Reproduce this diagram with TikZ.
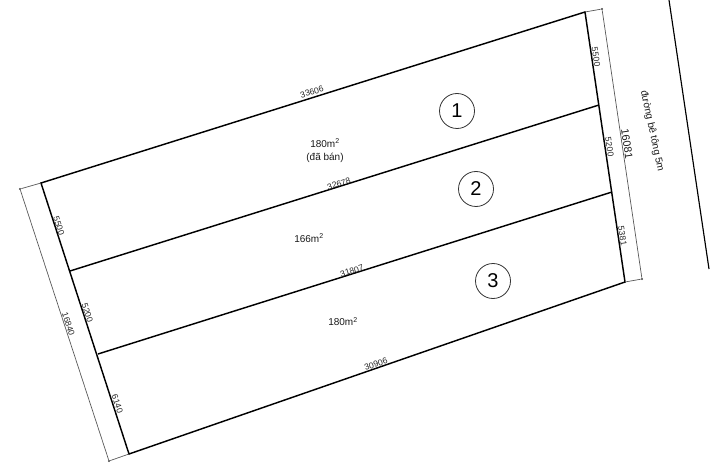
\documentclass[tikz,border=0pt]{standalone}
\usepackage{fontspec}
\setmainfont{Liberation Sans}
\tikzset{
  lotline/.style={draw=black,line width=1.45pt},
  dimline/.style={draw=black!65,line width=0.7pt},
  roadline/.style={draw=black,line width=1.15pt},
  dimtext/.style={inner sep=0pt,text=black!85,font=\fontsize{8.6}{9}\selectfont},
  bigdim/.style={inner sep=0pt,text=black!90,font=\fontsize{10.8}{11}\selectfont},
  areatext/.style={inner sep=0pt,text=black!90,align=center,font=\fontsize{10}{13}\selectfont},
  lotnum/.style={circle,draw=black!80,line width=0.8pt,minimum size=35pt,inner sep=0pt,text=black,font=\fontsize{20}{21}\selectfont},
  enddot/.style={circle,fill=black!75,minimum size=2.4pt,inner sep=0pt}
}
\begin{document}
\begin{tikzpicture}[x=1pt,y=-1pt]
\useasboundingbox (0,0) rectangle (720,473);
\coordinate (A) at (41,183);
\coordinate (B) at (585,12);
\coordinate (C) at (625,282);
\coordinate (D) at (129,454);
\coordinate (E) at (70,271);
\coordinate (F) at (98,354);
\coordinate (G) at (599,105);
\coordinate (H) at (612,192);
\node[enddot] (L1) at (20,189) {};
\node[enddot] (L2) at (109,461) {};
\node[enddot] (R1) at (602,9) {};
\node[enddot] (R2) at (642,279) {};
\coordinate (W1) at (669,0);
\coordinate (W2) at (709,269);
% lot outline and dividers
\draw[lotline,line join=miter] (A) -- (B) -- (C) -- (D) -- cycle;
\draw[lotline] (E) -- (G);
\draw[lotline] (F) -- (H);
% dimension lines
\draw[dimline] (A) -- (L1) -- (L2) -- (D);
\draw[dimline] (B) -- (R1) -- (R2) -- (C);
% road
\draw[roadline] (W1) -- (W2);
% length labels
\node[dimtext,rotate=17.5] (t1) at (312,92) {33606};
\node[dimtext,rotate=17.5] (t2) at (339,184) {32678};
\node[dimtext,rotate=17.5] (t3) at (352,271) {31807};
\node[dimtext,rotate=19] (t4) at (376,364) {30906};
\node[dimtext,rotate=-72] (t5) at (59,226) {5500};
\node[dimtext,rotate=-72] (t6) at (87.5,313) {5200};
\node[dimtext,rotate=-72] (t7) at (117.5,404) {6140};
\node[dimtext,rotate=-72] (t8) at (68.5,324) {16840};
\node[dimtext,rotate=-81.5] (t9) at (596,57) {5500};
\node[dimtext,rotate=-81.5] (t10) at (609.5,147) {5200};
\node[dimtext,rotate=-81.5] (t11) at (622.5,236) {5381};
\node[bigdim,rotate=-81.5] (t12) at (627,144) {16081};
\node[areatext,rotate=-78] (road) at (652,131) {đường bê tông 5m};
% areas
\node[areatext] (a1) at (325,150.5) {180m\textsuperscript{2}\\(đã bán)};
\node[areatext] (a2) at (309,238) {166m\textsuperscript{2}};
\node[areatext] (a3) at (343,321.5) {180m\textsuperscript{2}};
% lot numbers
\node[lotnum] (n1) at (457,111) {1};
\node[lotnum] (n2) at (476,189) {2};
\node[lotnum] (n3) at (493,281) {3};
\end{tikzpicture}
\end{document}
